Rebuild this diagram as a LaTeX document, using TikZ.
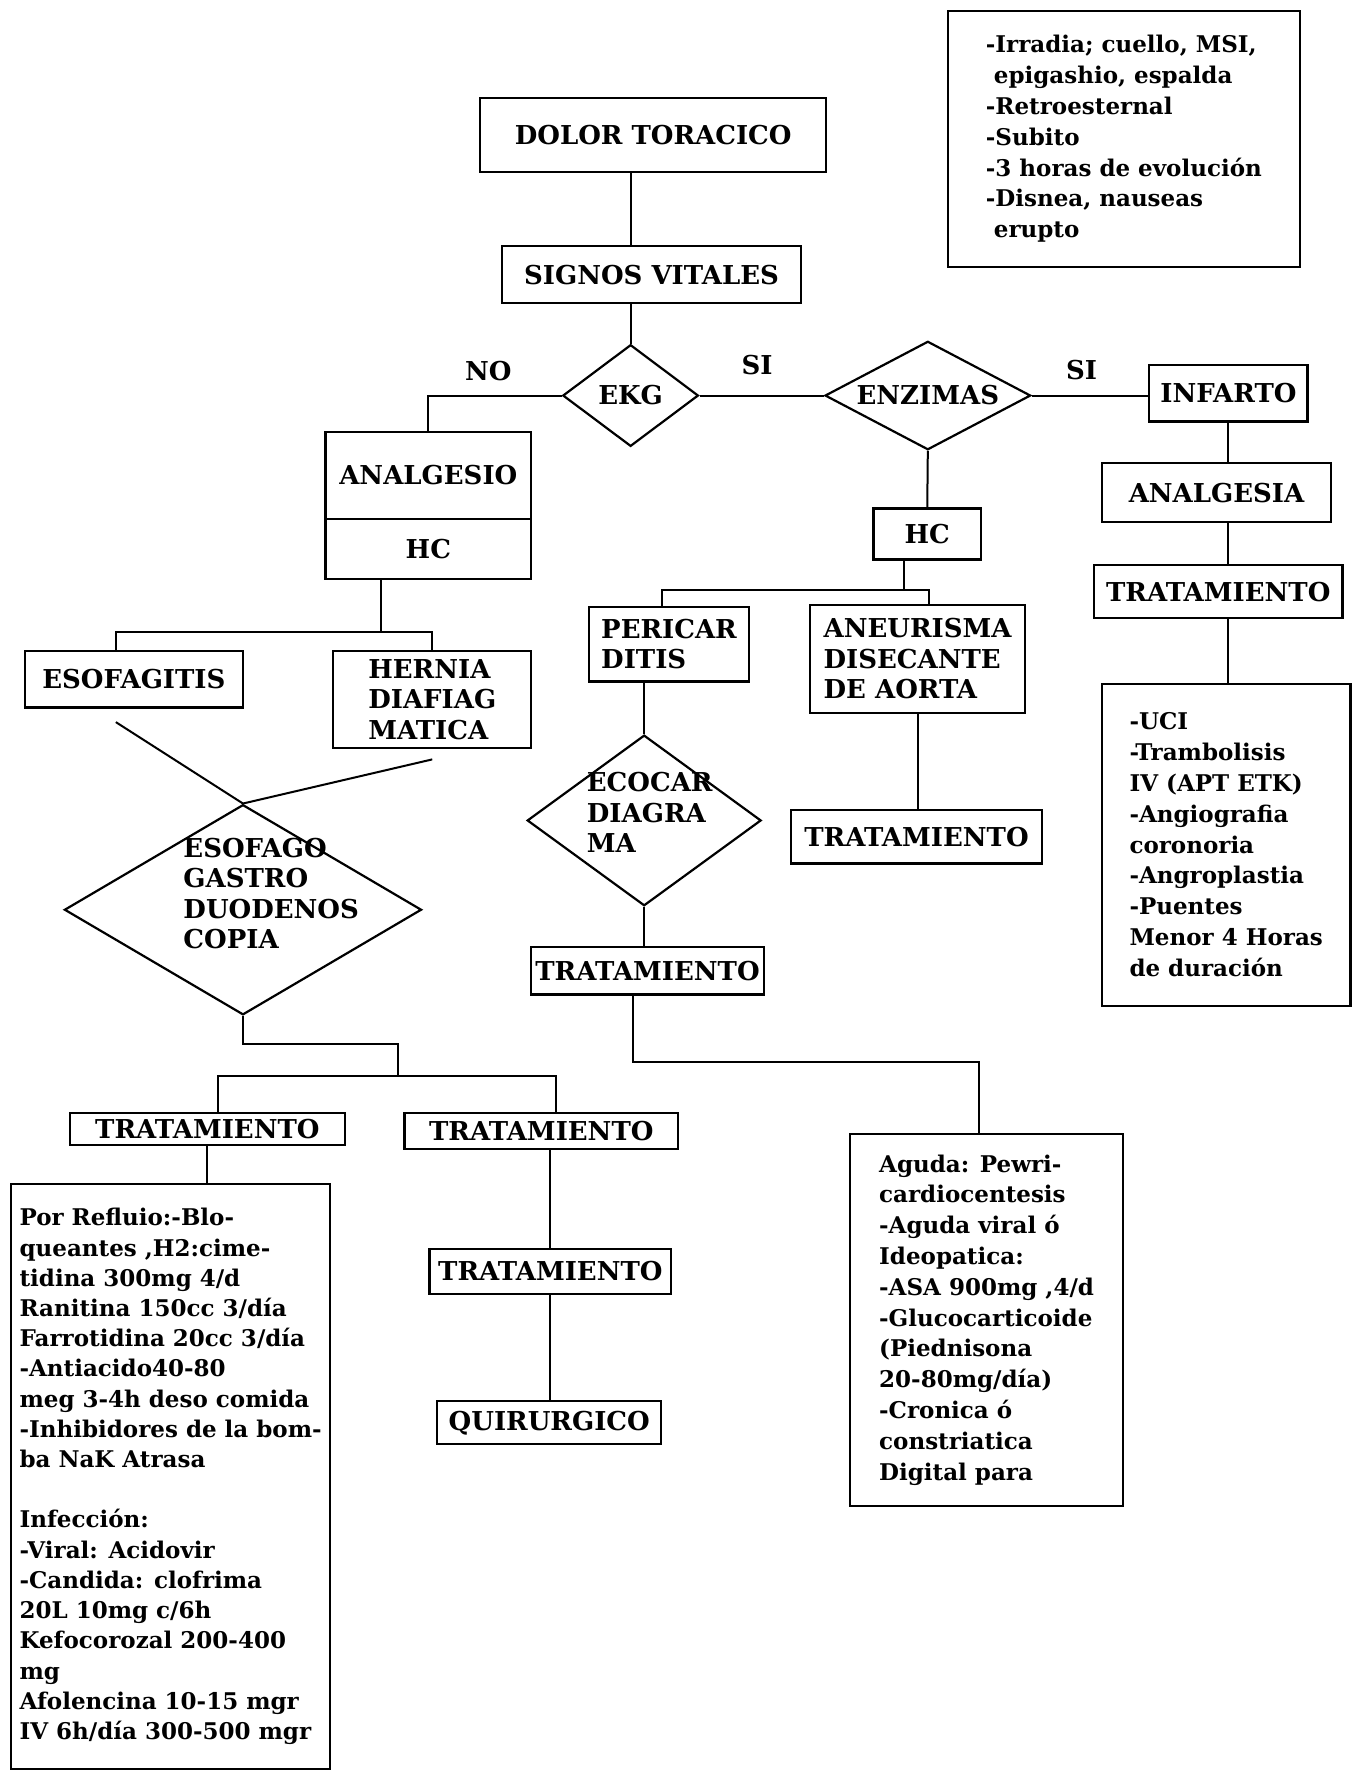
\documentclass[tikz,border=0pt]{standalone}
\usepackage{fontspec}
\setmainfont{DejaVu Serif}
\usetikzlibrary{shapes.geometric}
\newcommand{\pxu}{0.565pt}
\newcommand{\titlefont}{\bfseries\fontsize{13}{15.3}\selectfont}
\newcommand{\bodyfont}{\bfseries\fontsize{11.5}{15.4}\selectfont}

\begin{document}
\begin{tikzpicture}[x=\pxu,y=-\pxu,
    box/.style={draw,line width=1.1pt,inner sep=0pt,font=\titlefont},
    notes/.style={box,align=left,font=\bodyfont},
    dia/.style={draw,diamond,line width=1.1pt,inner sep=0pt,font=\titlefont},
    txt/.style={align=left,inner sep=0pt,font=\titlefont},
    link/.style={line width=1pt}]
  % units are pixels of the scanned chart, y downwards
  \useasboundingbox (0,0) rectangle (1197,1568);
  \node[box,minimum width=306*\pxu,minimum height=65*\pxu] (dolor) at (578,119.5) {DOLOR TORACICO};
  \node[box,minimum width=265*\pxu,minimum height=50*\pxu] (signos) at (576.5,243) {SIGNOS VITALES};
  \node[notes,minimum width=311*\pxu,minimum height=226*\pxu] (datos) at (994.5,123)
    {-Irradia; cuello, MSI,\\\hspace*{4pt}epigashio, espalda\\-Retroesternal\\-Subito\\-3 horas de evoluci\'on\\-Disnea, nauseas\\\hspace*{4pt}erupto};
  \node[dia,aspect=1.33,minimum width=120*\pxu,minimum height=90*\pxu] (ekg) at (558,350) {EKG};
  \node[dia,aspect=1.9,minimum width=182*\pxu,minimum height=96*\pxu] (enz) at (821,350) {ENZIMAS};
  \node[font=\titlefont,inner sep=0pt] (no) at (432,328) {NO};
  \node[font=\titlefont,inner sep=0pt] (si) at (670,323) {SI};
  \node[font=\titlefont,inner sep=0pt] (sii) at (957,327) {SI};
  % infarto column
  \node[box,minimum width=140*\pxu,minimum height=50*\pxu] (infarto) at (1087,348) {INFARTO};
  \node[box,minimum width=203*\pxu,minimum height=52*\pxu] (analgesia) at (1076.5,436) {ANALGESIA};
  \node[box,minimum width=220*\pxu,minimum height=47*\pxu] (tratr) at (1078,523.5) {TRATAMIENTO};
  \node[notes,minimum width=220*\pxu,minimum height=285*\pxu] (uci) at (1085,747.5)
    {-UCI\\-Trambolisis\\IV (APT ETK)\\-Angiografia\\coronoria\\-Angroplastia\\-Puentes\\Menor 4 Horas\\de duraci\'on};
  % NO branch
  \node[box,minimum width=182*\pxu,minimum height=77*\pxu] (anal) at (379,420.5) {ANALGESIO};
  \node[box,minimum width=182*\pxu,minimum height=53*\pxu] (hcl) at (379,485.5) {HC};
  \node[box,minimum width=193*\pxu,minimum height=50*\pxu] (esof) at (118.5,601) {ESOFAGITIS};
  \node[box,align=left,minimum width=175*\pxu,minimum height=86*\pxu] (hernia) at (382.5,619) {HERNIA\\DIAFIAG\\MATICA};
  \node[dia,minimum width=316*\pxu,minimum height=186*\pxu] (egd) at (215,805) {};
  \node[txt,anchor=north west] (egdtxt) at (162,741) {ESOFAGO\\GASTRO\\DUODENOS\\COPIA};
  \node[box,minimum width=243*\pxu,minimum height=28*\pxu] (tratl) at (183.5,999) {TRATAMIENTO};
  \node[box,minimum width=242*\pxu,minimum height=32*\pxu] (tratc) at (479,1001) {TRATAMIENTO};
  \node[box,minimum width=214*\pxu,minimum height=40*\pxu] (tratd) at (487,1125) {TRATAMIENTO};
  \node[box,minimum width=198*\pxu,minimum height=38*\pxu] (quir) at (486,1259) {QUIRURGICO};
  \node[notes,font=\bfseries\fontsize{11.5}{15.1}\selectfont,minimum width=282*\pxu,minimum height=517*\pxu] (reflujo) at (151,1306.5)
    {Por Refluio:-Blo-\\queantes ,H2:cime-\\tidina 300mg 4/d\\Ranitina 150cc 3/d\'ia\\Farrotidina 20cc 3/d\'ia\\-Antiacido40-80\\meg 3-4h deso comida\\-Inhibidores de la bom-\\ba NaK Atrasa\\[15.1pt]Infecci\'on:\\-Viral: Acidovir\\-Candida: clofrima\\20L 10mg c/6h\\Kefocorozal 200-400\\mg\\Afolencina 10-15 mgr\\IV 6h/d\'ia 300-500 mgr};
  % SI branch
  \node[box,minimum width=95*\pxu,minimum height=45*\pxu] (hcm) at (820.5,472.5) {HC};
  \node[box,align=left,minimum width=142*\pxu,minimum height=66*\pxu] (peri) at (592,570) {PERICAR\\DITIS};
  \node[box,align=left,minimum width=190*\pxu,minimum height=96*\pxu] (aneu) at (812,583) {ANEURISMA\\DISECANTE\\DE AORTA};
  \node[dia,minimum width=207*\pxu,minimum height=151*\pxu] (eco) at (570,726) {};
  \node[txt,anchor=north west] (ecotxt) at (519,683) {ECOCAR\\DIAGRA\\MA};
  \node[box,minimum width=222*\pxu,minimum height=47*\pxu] (trata) at (811,740.5) {TRATAMIENTO};
  \node[box,minimum width=206*\pxu,minimum height=42*\pxu] (trate) at (573,859) {TRATAMIENTO};
  \node[notes,minimum width=242*\pxu,minimum height=329*\pxu] (aguda) at (873,1168)
    {Aguda: Pewri-\\cardiocentesis\\-Aguda viral \'o\\Ideopatica:\\-ASA 900mg ,4/d\\-Glucocarticoide\\(Piednisona\\20-80mg/d\'ia)\\-Cronica \'o\\constriatica\\Digital para};
  % connectors
  \coordinate (hcbus) at (337,559);
  \coordinate (egdbus) at (352,952);
  \coordinate (hcmbus) at (800,522);
  \coordinate (ecobus) at (560,940);
  \draw[link] (dolor.south -| ekg.north) -- (signos.north -| ekg.north);
  \draw[link] (signos.south -| ekg.north) -- (ekg.north);
  \draw[link] (ekg.west) -| (anal.north);
  \draw[link] (ekg.east) -- (enz.west);
  \draw[link] (enz.east) -- (enz.east -| infarto.west);
  \draw[link] (enz.south) -- (hcm.north);
  \draw[link] (infarto.south) -- (infarto.south |- analgesia.north);
  \draw[link] (analgesia.south -| infarto.south) -- (tratr.north -| infarto.south);
  \draw[link] (tratr.south -| infarto.south) -- (uci.north -| infarto.south);
  \draw[link] (hcl.south -| hcbus) -- (hcbus);
  \draw[link] ([xshift=-16*\pxu]esof.north) |- (hcbus) -| (hernia.north);
  \draw[link] ([xshift=-16*\pxu,yshift=-12*\pxu]esof.south) -- (egd.north);
  \draw[link] ([yshift=-9*\pxu]hernia.south) -- (egd.north);
  \draw[link] (egd.south) -- ++(0,25) -| (egdbus);
  \draw[link] ([xshift=9*\pxu]tratl.north) |- (egdbus) -| ([xshift=13*\pxu]tratc.north);
  \draw[link] (tratl.south) -- (tratl.south |- reflujo.north);
  \draw[link] (tratc.south -| tratd.north) -- (tratd.north);
  \draw[link] (tratd.south) -- (tratd.south |- quir.north);
  \draw[link] (hcm.south -| hcmbus) -- (hcmbus);
  \draw[link] ([xshift=-6*\pxu]peri.north) |- (hcmbus) -| ([xshift=10*\pxu]aneu.north);
  \draw[link] (peri.south -| eco.north) -- (eco.north);
  \draw[link] (aneu.south) -- (aneu.south |- trata.north);
  \draw[link] (eco.south) -- (eco.south |- trate.north);
  \draw[link] (trate.south -| ecobus) -- (ecobus) -| ([xshift=-7*\pxu]aguda.north);
\end{tikzpicture}
\end{document}
